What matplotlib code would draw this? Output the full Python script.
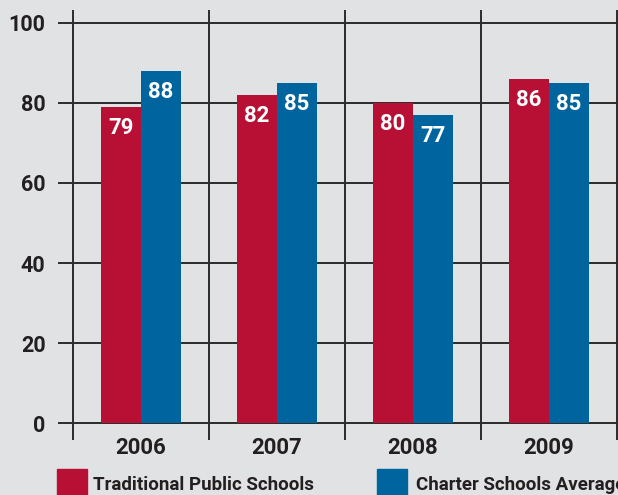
import matplotlib
matplotlib.use("Agg")
import matplotlib.pyplot as plt
from matplotlib.patches import Rectangle
import numpy as np

years = ["2006", "2007", "2008", "2009"]
traditional = [79, 82, 80, 86]
charter = [88, 85, 77, 85]
series_names = ["Traditional Public Schools", "Charter Schools Average"]
y_ticks = [0, 20, 40, 60, 80, 100]

RED = "#b71034"
BLUE = "#00659e"
BG = "#e1e2e4"
LINE = "#2b2b2b"

plt.rcParams['font.family'] = ['Roboto', 'DejaVu Sans']
plt.rcParams['font.weight'] = 'bold'

W, H = 618, 495
fig = plt.figure(figsize=(W / 100, H / 100), dpi=100, facecolor=BG)
ax = fig.add_axes([58 / W, (H - 440) / H, 560 / W, 430 / H])
ax.set_facecolor(BG)

x = np.arange(len(years))
bw = 40 / 136
ax.bar(x - bw / 2, traditional, width=bw, color=RED, zorder=3)
ax.bar(x + bw / 2, charter, width=bw, color=BLUE, zorder=3)

# grid lines
for v in y_ticks:
    ax.axhline(v, color=LINE, lw=1.4, zorder=1)
for xv in np.arange(-0.5, len(years), 1.0):
    ax.axvline(xv, color=LINE, lw=1.4, zorder=1)

# labels on bars
for xi, v in zip(x - bw / 2, traditional):
    ax.annotate(str(v), (xi, v), xytext=(0, -15), textcoords="offset points",
                ha="center", va="center", color="white", fontsize=16, fontweight="bold", zorder=4)
for xi, v in zip(x + bw / 2, charter):
    ax.annotate(str(v), (xi, v), xytext=(0, -15), textcoords="offset points",
                ha="center", va="center", color="white", fontsize=16, fontweight="bold", zorder=4)

ax.set_xlim(-0.5 - 15 / 136, len(years) - 0.5 + 1 / 136)
ax.set_ylim(-4.25, 103.25)
ax.set_yticks(y_ticks)
ax.set_yticklabels([str(t) for t in y_ticks])
ax.set_xticks(x)
ax.set_xticklabels(years)
ax.tick_params(axis="y", length=0, pad=9, labelsize=15.5, labelcolor="#231f20")
ax.tick_params(axis="x", length=0, pad=-2, labelsize=16, labelcolor="#231f20")
for s in ax.spines.values():
    s.set_visible(False)

# legend (the right one runs into the edge, as in the original)
for (x0, txt_x), name, col in zip([(57, 93), (377, 416)], series_names, [RED, BLUE]):
    fig.add_artist(Rectangle((x0 / W, -0.01), 30 / W, 26 / H + 0.01,
                             transform=fig.transFigure, color=col))
    fig.text(txt_x / W, (H - 484.5) / H, name, ha="left", va="center",
             fontsize=13.5, fontweight="bold", color="#231f20")

fig.savefig("out.png", dpi=100, facecolor=BG)
